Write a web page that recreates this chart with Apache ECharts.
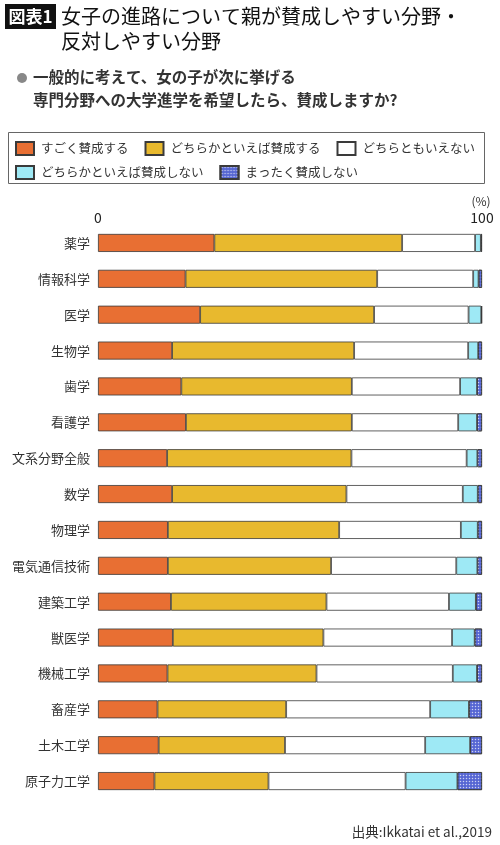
<!DOCTYPE html>
<html><head><meta charset="utf-8">
<script src="https://cdn.jsdelivr.net/npm/echarts@6/dist/echarts.min.js"></script>
<style>html,body{margin:0;padding:0;background:#fff}#c{width:500px;height:845px}</style>
</head><body><div id="c"></div>
<script>
const categories = ['薬学','情報科学','医学','生物学','歯学','看護学','文系分野全般','数学','物理学','電気通信技術','建築工学','獣医学','機械工学','畜産学','土木工学','原子力工学'];
const seriesNames = ['すごく賛成する','どちらかといえば賛成する','どちらともいえない','どちらかといえば賛成しない','まったく賛成しない'];
const stronglyAgree   = [30.3,22.8,26.6,19.3,21.7,22.9,18.0,19.3,18.2,18.2,19.0,19.5,18.1,15.5,15.8,14.7];
const somewhatAgree   = [48.9,49.9,45.3,47.4,44.4,43.2,48.0,45.4,44.6,42.5,40.5,39.2,38.8,33.5,32.9,29.7];
const neutral         = [19.0,25.0,24.6,29.7,28.2,27.7,30.0,30.3,31.7,32.6,31.9,33.5,35.5,37.5,36.5,35.7];
const somewhatDisagree= [1.5,1.4,3.3,2.6,4.4,4.9,2.8,3.9,4.4,5.5,7.0,5.9,6.3,10.1,11.7,13.5];
const stronglyDisagree= [0.3,0.9,0.2,1.0,1.3,1.3,1.2,1.1,1.1,1.2,1.6,1.9,1.3,3.4,3.1,6.4];
const xTicks = [0,100];

const FONT = '"Noto Sans CJK JP","Noto Sans",sans-serif';
const colors = ['#E86F33','#E8B92E','#FFFFFF','#9EE9F5','#5666D3'];
const values = [stronglyAgree, somewhatAgree, neutral, somewhatDisagree, stronglyDisagree];

const chart = echarts.init(document.getElementById('c'), null, {renderer:'canvas'});
const series = seriesNames.map((n,i)=>{
  const itemStyle = {color: colors[i], borderColor:'#3a3a3a', borderWidth:0.8};
  if (i===4) itemStyle.decal = {symbol:'circle', symbolSize:0.5, color:'rgba(255,255,255,0.7)', dashArrayX:[3,0], dashArrayY:[3,0]};
  return {name:n, type:'bar', stack:'total', barWidth:18, data: values[i], itemStyle: itemStyle, emphasis:{disabled:true}};
});

const legendBase = {
  orient:'horizontal', width:490, padding:0,
  itemWidth:18, itemHeight:13, itemGap:16, icon:'rect',
  textStyle:{fontFamily:FONT, fontSize:12.5, color:'#333', padding:[0,0,0,2]},
  selectedMode:false
};

chart.setOption({
  animation:false,
  textStyle:{fontFamily:FONT},
  title:[
    {text:'女子の進路について親が賛成しやすい分野・\n反対しやすい分野', left:61, top:4, padding:0,
     textStyle:{fontFamily:FONT, fontSize:20, fontWeight:'normal', color:'#111', lineHeight:25}},
    {text:'一般的に考えて、女の子が次に挙げる\n専門分野への大学進学を希望したら、賛成しますか?', left:33, top:66, padding:0,
     textStyle:{fontFamily:FONT, fontSize:15.5, fontWeight:'bold', color:'#333', lineHeight:23}},
    {text:'出典:Ikkatai et al.,2019', right:8, top:825, padding:0,
     textStyle:{fontFamily:FONT, fontSize:13.5, fontWeight:'normal', color:'#333'}}
  ],
  graphic:[
    {type:'rect', shape:{x:5,y:4,width:51,height:25}, style:{fill:'#111'}},
    {type:'text', style:{x:30.5,y:16.5,text:'図表1',fill:'#fff',font:'bold 17px '+FONT, align:'center', verticalAlign:'middle'}},
    {type:'circle', shape:{cx:22,cy:78,r:5}, style:{fill:'#888'}},
    {type:'rect', shape:{x:8.5,y:132.5,width:476,height:51}, style:{fill:'none', stroke:'#666', lineWidth:1}},
    {type:'text', style:{x:481,y:201,text:'(%)',fill:'#333',font:'12px '+FONT, align:'center', verticalAlign:'middle'}}
  ],
  legend:[
    Object.assign({}, legendBase, {data:seriesNames.slice(0,3), left:15, top:141}),
    Object.assign({}, legendBase, {data:seriesNames.slice(3,5), left:15, top:165})
  ],
  grid:{left:98, right:18, top:225, height:574, containLabel:false},
  xAxis:{type:'value', min:xTicks[0], max:xTicks[1], interval:100, position:'top',
    axisLine:{show:false}, axisTick:{show:false}, splitLine:{show:false},
    axisLabel:{show:true, margin:0, fontSize:14, color:'#222', fontFamily:FONT}},
  yAxis:{type:'category', data:categories, inverse:true,
    axisLine:{show:false}, axisTick:{show:false},
    axisLabel:{margin:8, fontSize:13, color:'#333', fontFamily:FONT}},
  series: series
});
</script></body></html>
